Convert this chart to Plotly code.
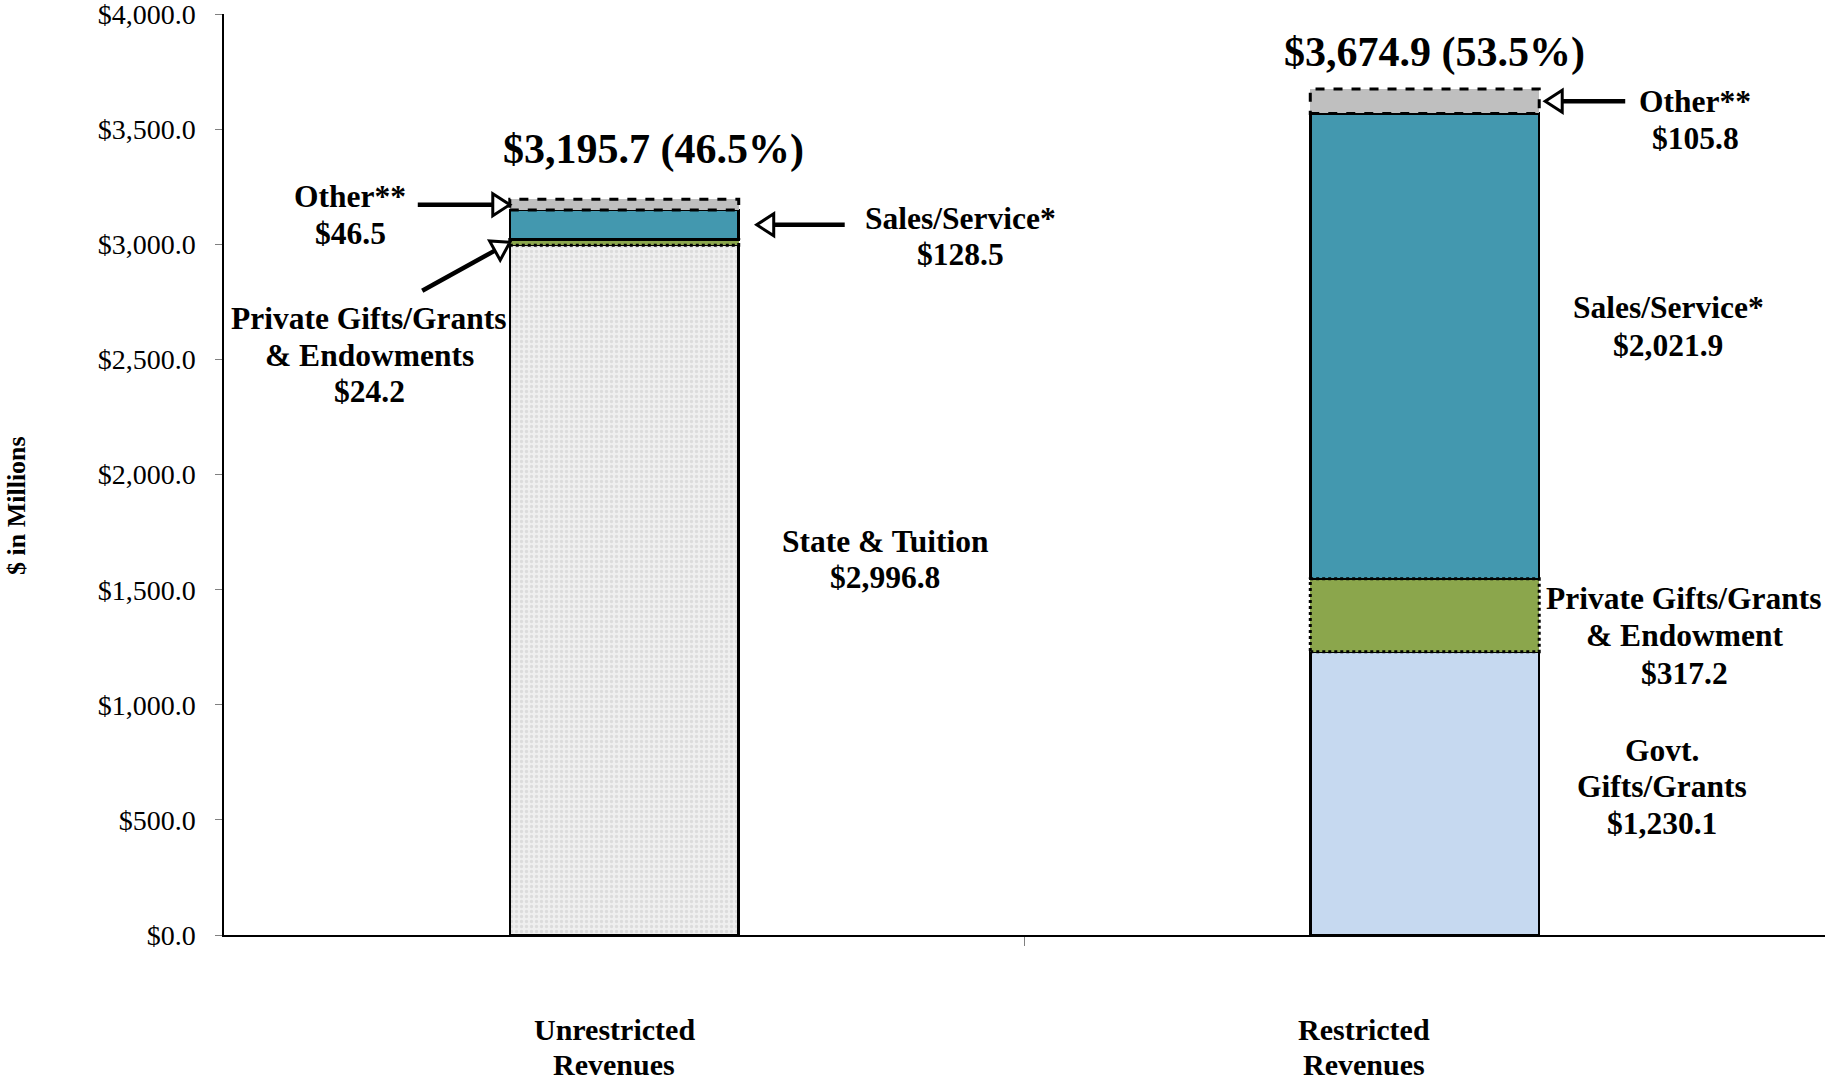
import math
import plotly.graph_objects as go

# Revenue components ($ millions), bottom-to-top stacking order
categories = ["Unrestricted Revenues", "Restricted Revenues"]
state_tuition = [2996.8, None]
govt_gifts = [None, 1230.1]
private_gifts = [24.2, 317.2]
sales_service = [128.5, 2021.9]
other = [46.5, 105.8]
totals = [3195.7, 3674.9]
shares = [46.5, 53.5]
y_ticks = [0, 500, 1000, 1500, 2000, 2500, 3000, 3500, 4000]

W, H = 1825, 1082
ML, MR, MT, MB = 224, 0, 14, 147
BAR_W = 0.286
xpos = [0, 1]

SERIF = "Liberation Serif, Times New Roman, serif"
TEAL = "#4398af"
GREEN = "#8ba64c"
LIGHT_BLUE = "#c6d9f0"
GRAY = "#bfbfbf"


def nz(v):
    return v if v is not None else 0.0


fig = go.Figure()

solid = dict(color="black", width=2.5)
fig.add_bar(
    x=xpos, y=state_tuition, width=BAR_W, name="State & Tuition",
    marker=dict(color="#ececec", line=solid,
                pattern=dict(shape=".", bgcolor="#efefef", fgcolor="#c9c9c9",
                             size=5, solidity=0.35)),
)
fig.add_bar(x=xpos, y=govt_gifts, width=BAR_W, name="Govt. Gifts/Grants",
            marker=dict(color=LIGHT_BLUE, line=solid))
fig.add_bar(x=xpos, y=private_gifts, width=BAR_W, name="Private Gifts/Grants",
            marker=dict(color=GREEN, line=dict(width=0)))
fig.add_bar(x=xpos, y=sales_service, width=BAR_W, name="Sales/Service",
            marker=dict(color=TEAL, line=solid))
fig.add_bar(x=xpos, y=other, width=BAR_W, name="Other",
            marker=dict(color=GRAY, line=dict(width=0)))

# dotted / dashed outlines for the segments that use non-solid borders
seg = []
for i in xpos:
    base = nz(state_tuition[i]) + nz(govt_gifts[i])
    pg_top = base + private_gifts[i]
    ss_top = pg_top + sales_service[i]
    ot_top = ss_top + other[i]
    seg.append(dict(base=base, pg_top=pg_top, ss_top=ss_top, ot_top=ot_top))
    fig.add_shape(type="rect", xref="x", yref="y",
                  x0=i - BAR_W / 2, x1=i + BAR_W / 2, y0=base, y1=pg_top,
                  line=dict(color="black", width=3, dash="dot"))
    fig.add_shape(type="rect", xref="x", yref="y",
                  x0=i - BAR_W / 2, x1=i + BAR_W / 2, y0=ss_top, y1=ot_top,
                  line=dict(color="black", width=3, dash="dash"))


def arrow(x_tip, y_tip, dx, dy, length, gap=0.0, head_len=17, head_half=11):
    """Arrow anchored at a data point; direction (dx, dy) in pixels, y up."""
    n = math.hypot(dx, dy)
    ux, uy = dx / n, dy / n
    tx, ty = -ux * gap, -uy * gap  # tip offset from anchor
    bx, by = tx - ux * head_len, ty - uy * head_len
    px, py = -uy, ux
    fig.add_shape(type="line", xref="x", yref="y",
                  xsizemode="pixel", ysizemode="pixel",
                  xanchor=x_tip, yanchor=y_tip,
                  x0=bx + ux * 2, y0=by + uy * 2,
                  x1=tx - ux * length, y1=ty - uy * length,
                  line=dict(color="black", width=4.5))
    path = (f"M {tx:.2f},{ty:.2f} "
            f"L {bx + px * head_half:.2f},{by + py * head_half:.2f} "
            f"L {bx - px * head_half:.2f},{by - py * head_half:.2f} Z")
    fig.add_shape(type="path", xref="x", yref="y",
                  xsizemode="pixel", ysizemode="pixel",
                  xanchor=x_tip, yanchor=y_tip, path=path,
                  fillcolor="white", line=dict(color="black", width=3))


u, r = seg[0], seg[1]
arrow(0 - BAR_W / 2, (u["ss_top"] + u["ot_top"]) / 2, 1, 0, 92)
arrow(0 - BAR_W / 2, (u["base"] + u["pg_top"]) / 2, 87, 48, 100)
arrow(0 + BAR_W / 2, (u["pg_top"] + u["ss_top"]) / 2, -1, 0, 88, gap=18)
arrow(1 + BAR_W / 2, (r["ss_top"] + r["ot_top"]) / 2, -1, 0, 80, gap=6)

plot_w = W - ML - MR
plot_h = H - MT - MB


def px_x(px):
    return (px - ML) / plot_w


def px_y(py):
    return (H - MB - py) / plot_h


def label(lines, cx, cy_first, size=31.5, spacing=37, bold=True):
    for k, line in enumerate(lines):
        fig.add_annotation(
            x=px_x(cx), y=px_y(cy_first + k * spacing), xref="paper", yref="paper",
            text=line, showarrow=False, xanchor="center", yanchor="middle",
            font=dict(family=SERIF, size=size, color="black",
                      weight="bold" if bold else "normal"),
        )


def money(v):
    return f"${v:,.1f}"


# totals above each bar
label([f"{money(totals[0])} ({shares[0]}%)"], 653, 150, size=42)
label([f"{money(totals[1])} ({shares[1]}%)"], 1434, 52, size=42)

# unrestricted segment labels
label(["Other**", money(other[0])], 350, 197, spacing=36)
label(["Private Gifts/Grants", "& Endowments", money(private_gifts[0])], 369, 318, spacing=37)
label(["Sales/Service*", money(sales_service[0])], 960, 218, spacing=36)
label(["State & Tuition", money(state_tuition[0])], 885, 541, spacing=36)

# restricted segment labels
label(["Other**", money(other[1])], 1695, 101, spacing=38)
label(["Sales/Service*", money(sales_service[1])], 1668, 307, spacing=38)
label(["Private Gifts/Grants", "& Endowment", money(private_gifts[1])], 1684, 598, spacing=37.5)
label(["Govt.", "Gifts/Grants", money(govt_gifts[1])], 1662, 750, spacing=36.5)

# category labels under the axis
for name, cx in zip(categories, [614, 1364]):
    first, second = name.split(" ", 1)
    label([first, second], cx, 1029, size=30, spacing=35)

# y-axis title
fig.add_annotation(
    x=px_x(16), y=px_y(506), xref="paper", yref="paper",
    text="$ in Millions", textangle=-90, showarrow=False,
    xanchor="center", yanchor="middle",
    font=dict(family=SERIF, size=26, color="black", weight="bold"),
)

fig.update_layout(
    width=W, height=H,
    margin=dict(l=ML, r=MR, t=MT, b=MB, pad=0),
    barmode="stack",
    showlegend=False,
    plot_bgcolor="white",
    paper_bgcolor="white",
    xaxis=dict(
        range=[-0.5, 1.5], tickvals=[0.5], ticktext=[""],
        ticks="outside", ticklen=9, tickcolor="#808080", tickwidth=1,
        showline=True, linecolor="black", linewidth=1.5,
        showgrid=False, zeroline=False, fixedrange=True,
    ),
    yaxis=dict(
        range=[0, 4001], tickvals=y_ticks, tickformat="$,.1f",
        ticks="outside", ticklen=7, tickcolor="#808080", tickwidth=1,
        ticklabelstandoff=14, ticklabeloverflow="allow",
        tickfont=dict(family=SERIF, size=28, color="black"),
        showline=True, linecolor="black", linewidth=1.5,
        showgrid=False, zeroline=False, fixedrange=True,
    ),
)

fig.write_html("out.html")
